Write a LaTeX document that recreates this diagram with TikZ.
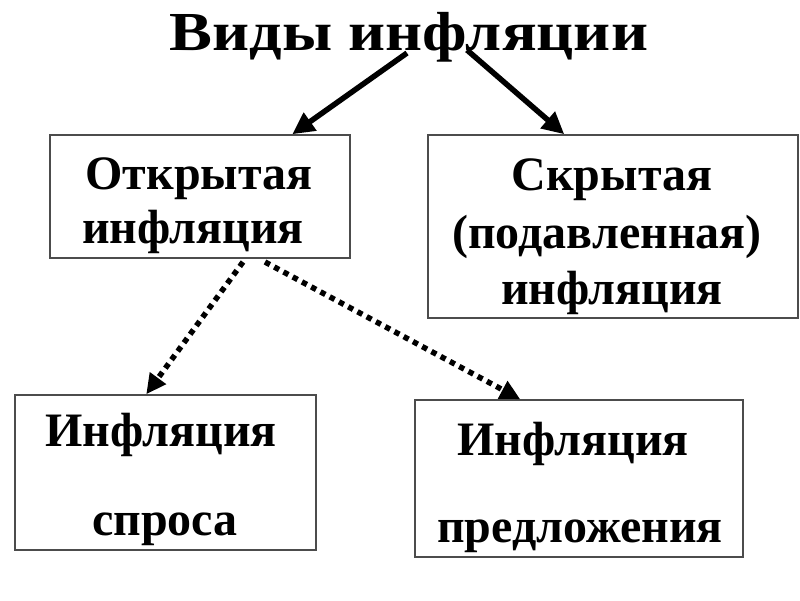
\documentclass[tikz,border=0pt]{standalone}
\usepackage{fontspec}
\setmainfont{Liberation Serif}
\newfontfamily\titlefont[FakeStretch=1.17]{Liberation Serif}
\usetikzlibrary{arrows.meta}
\begin{document}
\begin{tikzpicture}[x=1pt,y=-1pt,
  box/.style={draw=black!70, line width=1.5pt, inner sep=0pt},
  lbl/.style={font=\bfseries\fontsize{48}{56}\selectfont, inner sep=0pt, anchor=base},
  ttl/.style={font=\titlefont\bfseries\fontsize{55}{62}\selectfont, inner sep=0pt, anchor=base},
  solidarrow/.style={line width=5.5pt, -{Triangle[length=22pt,width=21pt]}},
  dotarrow/.style={line width=5.5pt, dash pattern=on 5.5pt off 5pt, -{Triangle[length=20pt,width=19pt]}}
]
\useasboundingbox (0,0) rectangle (800,600);
\fill[white] (0,0) rectangle (800,600);
% title
\node[ttl] (t) at (409,50) {Виды инфляции};
% boxes
\node[box, minimum width=300pt, minimum height=123pt] (b1) at (200,196.5) {};
\node[box, minimum width=370pt, minimum height=183pt] (b2) at (613,226.5) {};
\node[box, minimum width=301pt, minimum height=155pt] (b3) at (165.5,472.5) {};
\node[box, minimum width=328pt, minimum height=157pt] (b4) at (579,478.5) {};
% texts
\node[lbl] (l1a) at (199,189) {Открытая};
\node[lbl] (l1b) at (193,243) {инфляция};
\node[lbl] (l2a) at (612,190) {Скрытая};
\node[lbl] (l2b) at (607,248) {(подавленная)};
\node[lbl] (l2c) at (612,304) {инфляция};
\node[lbl] (l3a) at (161,446) {Инфляция};
\node[lbl] (l3b) at (165,535) {спроса};
\node[lbl] (l4a) at (573,455) {Инфляция};
\node[lbl] (l4b) at (580,542) {предложения};
% connector points
\coordinate (s1) at (407,53);
\coordinate (s2) at (467,50);
\coordinate (s3) at (243,262);
\coordinate (s4) at (265,262);
\draw[solidarrow] (s1) -- ([xshift=243pt]b1.north west);
\draw[solidarrow] (s2) -- ([xshift=137pt]b2.north west);
\draw[dotarrow] (s3) -- ([xshift=132pt]b3.north west);
\draw[dotarrow] (s4) -- ([xshift=106pt]b4.north west);
\end{tikzpicture}
\end{document}
